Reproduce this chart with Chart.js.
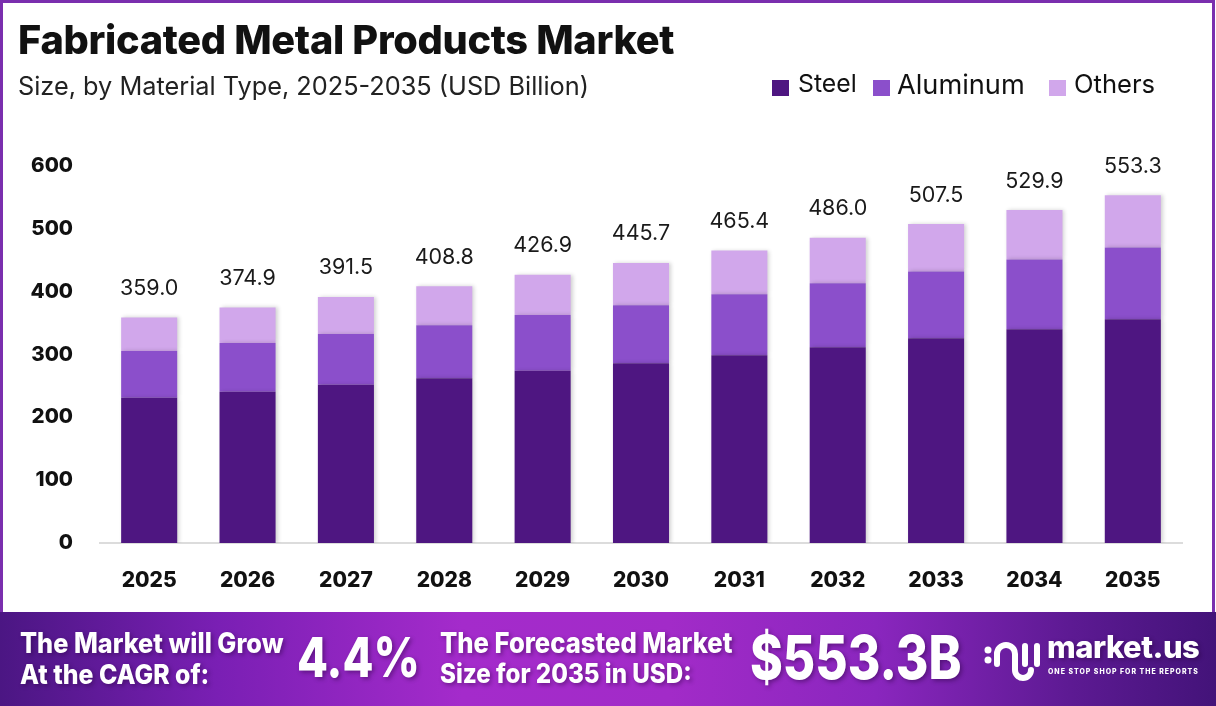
<!DOCTYPE html>
<html>
<head>
<meta charset="utf-8">
<script src="https://cdn.jsdelivr.net/npm/chart.js@4.4.1/dist/chart.umd.min.js"></script>
<style>
  html, body { margin:0; padding:0; background:#fff; }
  body { width:1216px; height:706px; position:relative; overflow:hidden; font-family: Inter, "Open Sans", sans-serif; }
  #frame { position:absolute; left:0; top:0; width:1215px; height:612px; box-sizing:border-box; border:3px solid #7a2fae; border-bottom:none; }
  #title { position:absolute; left:18px; top:16px; font-weight:800; font-size:32px; color:#111; white-space:nowrap; letter-spacing:-0.3px; }
  #subtitle { position:absolute; left:18px; top:70px; font-weight:400; font-size:22px; color:#222; white-space:nowrap; }
  #legend { position:absolute; top:68px; left:0; font-size:24px; color:#111; }
  .lg { position:absolute; white-space:nowrap; top:0; }
  .sw { position:absolute; width:17px; height:16px; top:12px; }
  #chartWrap { position:absolute; left:0; top:0; width:1216px; height:612px; }
  #banner { position:absolute; left:0; top:612px; width:1216px; height:94px;
    background: linear-gradient(90deg, #4b1683 0%, #7a1fb4 18%, #a42bcb 38%, #a22bc8 55%, #8a26be 72%, #5d1a93 88%, #431379 100%); color:#fff; }
  .bt { position:absolute; font-weight:800; white-space:nowrap; text-shadow: 2px 2px 4px rgba(40,0,60,0.45); transform-origin: left center; }
  .tall { transform: scaleY(1.1); }
  .big { transform: scaleY(1.22); }
</style>
</head>
<body>
<div id="chartWrap"><canvas id="c" width="1216" height="612"></canvas></div>
<div id="frame"></div>
<div id="title" data-w="654">Fabricated Metal Products Market</div>
<div id="subtitle" data-w="572">Size, by Material Type, 2025-2035 (USD Billion)</div>
<div id="legend">
  <div class="sw" style="left:772px;background:#4e1681"></div><div class="lg" style="left:798px" data-w="59">Steel</div>
  <div class="sw" style="left:873px;background:#8b4fcb"></div><div class="lg" style="left:897px" data-w="128">Aluminum</div>
  <div class="sw" style="left:1049px;background:#d1a7eb"></div><div class="lg" style="left:1074px" data-w="81">Others</div>
</div>
<div id="banner">
  <div class="bt tall" style="left:20px;top:15px;font-size:23px;line-height:32px;" data-w="264">The Market will Grow</div>
  <div class="bt tall" style="left:20px;top:46px;font-size:23px;line-height:32px;" data-w="190">At the CAGR of:</div>
  <div class="bt big" style="left:297px;top:15px;font-size:48px;line-height:60px;" data-w="123">4.4%</div>
  <div class="bt tall" style="left:440px;top:15px;font-size:23px;line-height:32px;" data-w="293">The Forecasted Market</div>
  <div class="bt tall" style="left:440px;top:46px;font-size:23px;line-height:32px;" data-w="252">Size for 2035 in USD:</div>
  <div class="bt big" style="left:750px;top:15px;font-size:50px;line-height:60px;" data-w="212">$553.3B</div>
  <svg style="position:absolute;left:983px;top:24px" width="70" height="50" viewBox="0 0 70 50">
    <circle cx="5" cy="14" r="3.5" fill="#fff"/>
    <circle cx="5" cy="24" r="3.5" fill="#fff"/>
    <path d="M14 28 V18 a9 9 0 0 1 18 0 V34 a8 8 0 0 0 16 0" stroke="#fff" stroke-width="6" fill="none" stroke-linecap="round"/>
    <path d="M42 10 V28 M54 10 V28" stroke="#fff" stroke-width="6" fill="none" stroke-linecap="round"/>
  </svg>
  <div class="bt" style="left:1047px;top:16px;font-size:33px;line-height:38px;letter-spacing:-0.5px;" data-w="153">market.us</div>
  <div class="bt" style="left:1048px;top:55px;font-size:7px;letter-spacing:1px;text-shadow:none;" data-w="151">ONE STOP SHOP FOR THE REPORTS</div>
</div>
<script>
const categories = ['2025','2026','2027','2028','2029','2030','2031','2032','2033','2034','2035'];
const steel    = [231.0, 240.6, 251.7, 262.4, 274.0, 286.2, 298.9, 311.6, 325.9, 340.2, 356.0];
const aluminum = [74.6, 77.8, 81.0, 84.0, 88.9, 92.0, 96.8, 101.6, 106.3, 111.1, 114.3];
const others   = [53.4, 56.5, 58.8, 62.4, 64.0, 67.5, 69.7, 72.8, 75.3, 78.6, 83.0];
const totals   = ['359.0','374.9','391.5','408.8','426.9','445.7','465.4','486.0','507.5','529.9','553.3'];
const yTicks   = [0, 100, 200, 300, 400, 500, 600];

// fit text widths
document.querySelectorAll('[data-w]').forEach(el => {
  const target = +el.dataset.w;
  const fs = parseFloat(getComputedStyle(el).fontSize);
  const w = el.offsetWidth;
  el.style.fontSize = (fs * target / w) + 'px';
});

const totalsPlugin = {
  id: 'totals',
  afterDatasetsDraw(chart) {
    const ctx = chart.ctx;
    const meta = chart.getDatasetMeta(chart.data.datasets.length - 1);
    ctx.save();
    ctx.font = '400 21.5px Inter, sans-serif';
    ctx.fillStyle = '#1a1a1a';
    ctx.textAlign = 'center';
    ctx.textBaseline = 'middle';
    meta.data.forEach((bar, i) => {
      ctx.fillText(totals[i], bar.x, bar.y - 29);
    });
    ctx.restore();
  }
};
const shadowPlugin = {
  id: 'shadow',
  beforeDatasetsDraw(chart) {
    chart.ctx.save();
    chart.ctx.shadowColor = 'rgba(0,0,0,0.18)';
    chart.ctx.shadowBlur = 4;
    chart.ctx.shadowOffsetX = 2;
    chart.ctx.shadowOffsetY = 0;
  },
  afterDatasetsDraw(chart) { chart.ctx.restore(); }
};

new Chart(document.getElementById('c'), {
  type: 'bar',
  data: {
    labels: categories,
    datasets: [
      { label: 'Steel', data: steel, backgroundColor: '#4e1681' },
      { label: 'Aluminum', data: aluminum, backgroundColor: '#8b4fcb' },
      { label: 'Others', data: others, backgroundColor: '#d1a7eb' }
    ]
  },
  options: {
    responsive: false,
    animation: false,
    layout: { padding: { left: 0, right: 34, top: 166, bottom: 0 } },
    plugins: { legend: { display: false }, tooltip: { enabled: false } },
    datasets: { bar: { categoryPercentage: 1, barPercentage: 0.57 } },
    scales: {
      x: {
        stacked: true,
        grid: { display: false, drawTicks: false },
        border: { display: true, color: '#dcdcdc', width: 2 },
        ticks: { color: '#111', font: { family: 'Inter', weight: '800', size: 21 }, padding: 25 },
        afterFit(s) { s.height = 69; }
      },
      y: {
        stacked: true,
        min: 0, max: 600,
        afterBuildTicks(s) { s.ticks = yTicks.map(v => ({ value: v })); },
        grid: { display: false, drawTicks: false },
        border: { display: false },
        ticks: { color: '#111', font: { family: 'Inter', weight: '800', size: 20.5 }, padding: 27 },
        afterFit(s) { s.width = 100; }
      }
    }
  },
  plugins: [shadowPlugin, totalsPlugin]
});
</script>
</body>
</html>
